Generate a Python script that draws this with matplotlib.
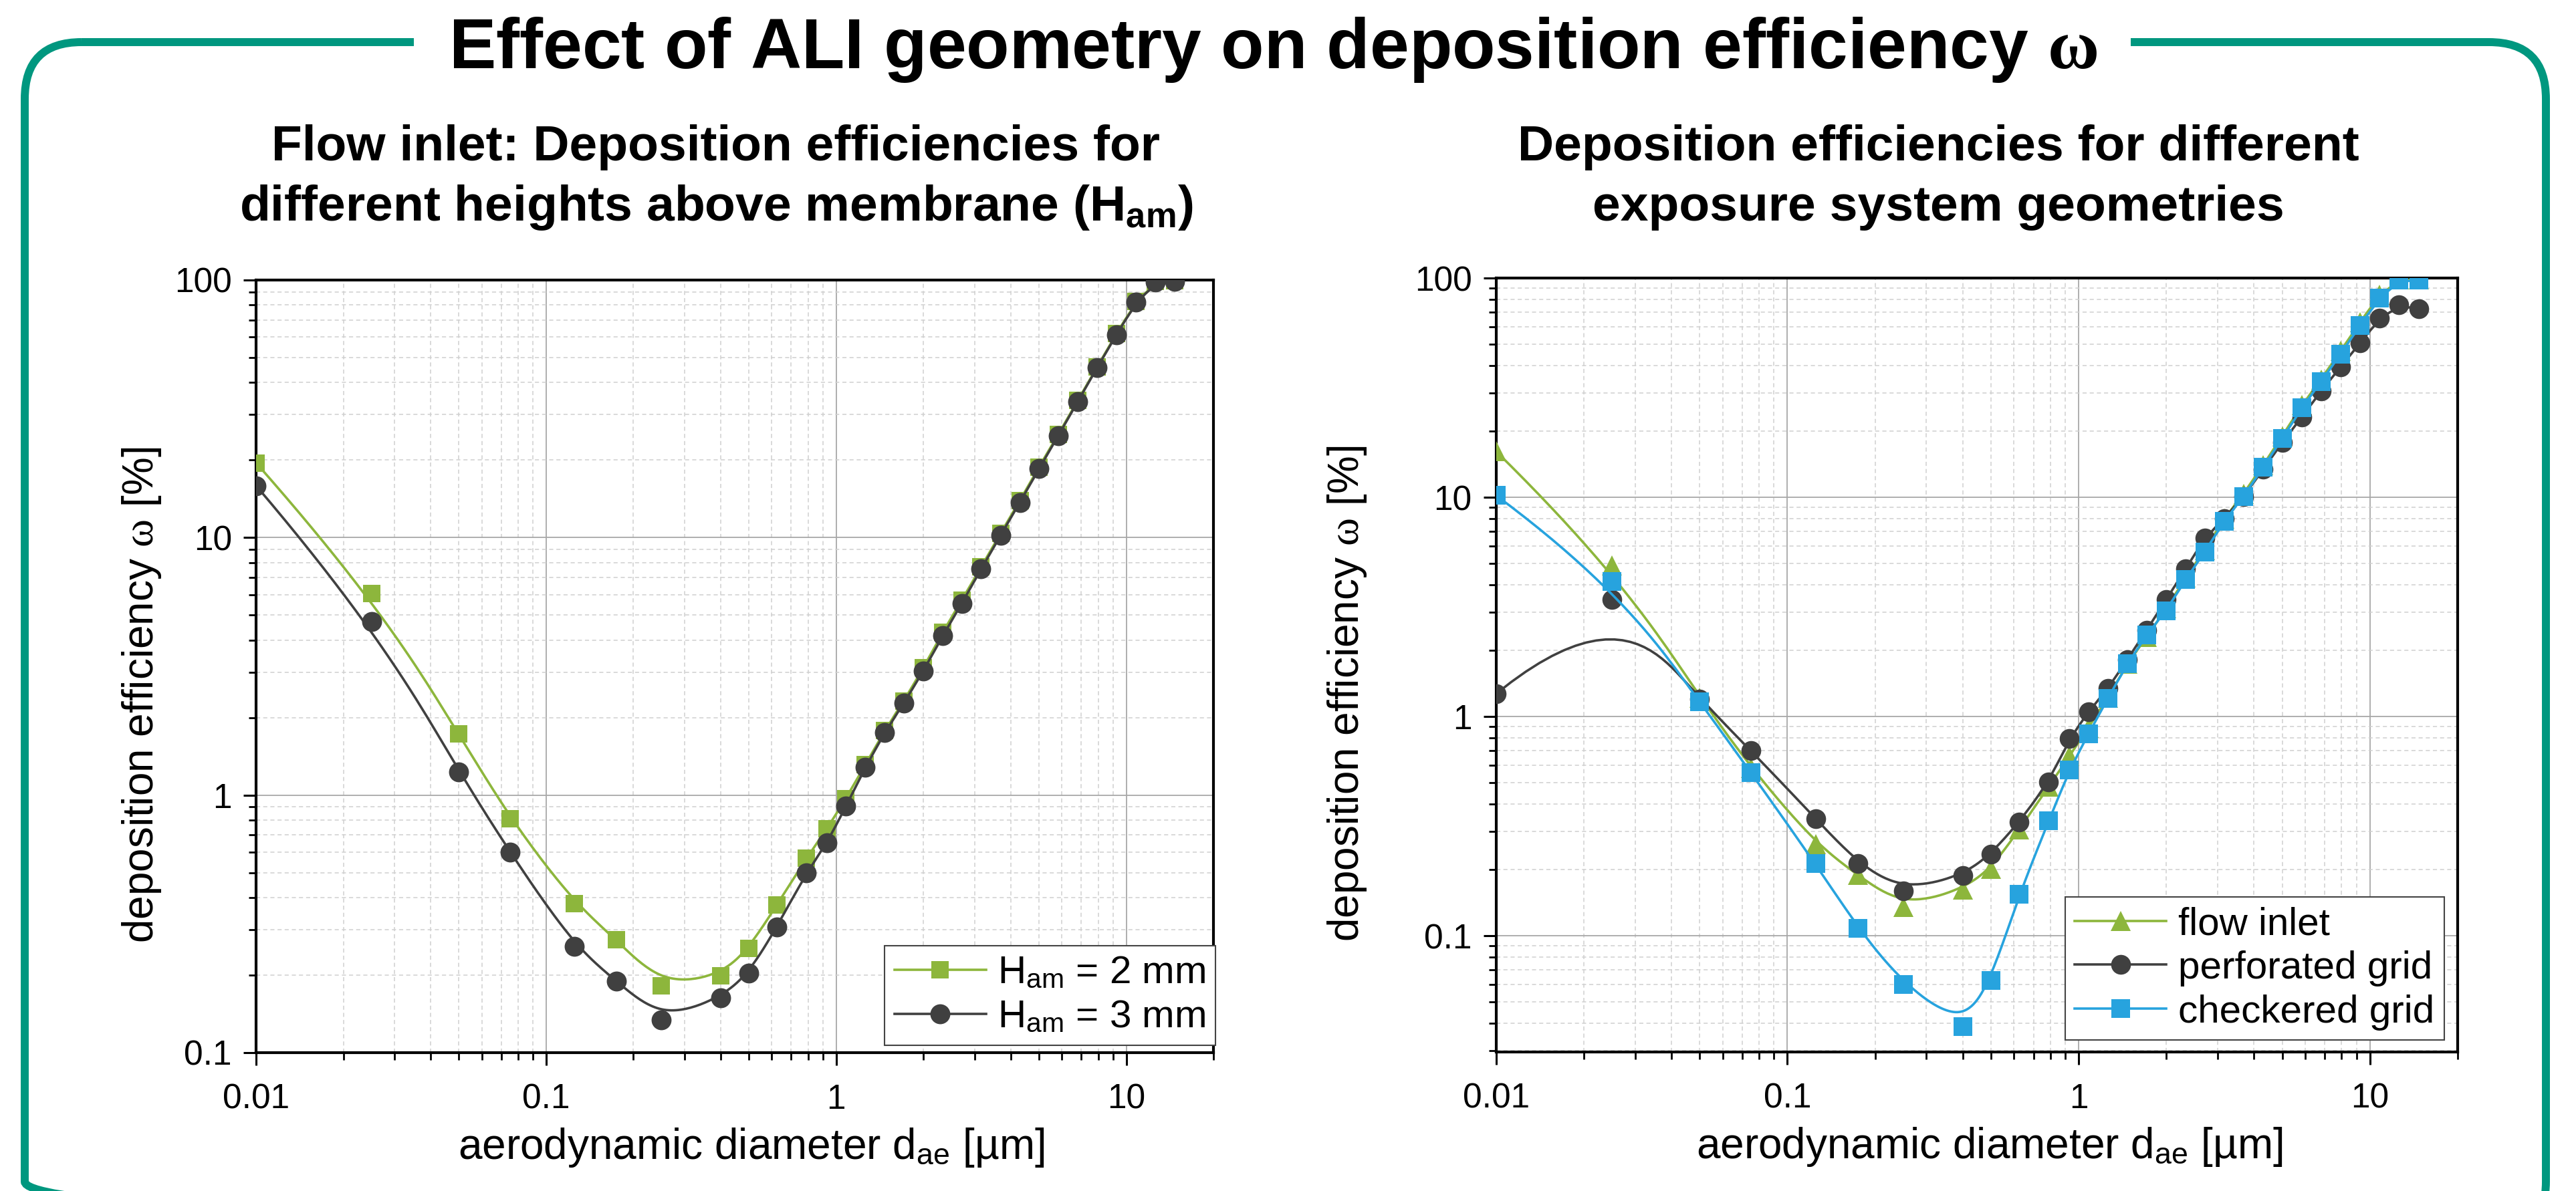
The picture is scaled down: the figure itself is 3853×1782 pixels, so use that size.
import numpy as np
import matplotlib
matplotlib.use('Agg')
import matplotlib.pyplot as plt
from matplotlib.lines import Line2D
from matplotlib.patches import FancyBboxPatch, Rectangle
from matplotlib.ticker import LogLocator, FuncFormatter, NullFormatter

plt.rcParams['font.family'] = ['Liberation Sans', 'DejaVu Sans']
plt.rcParams['mathtext.fontset'] = 'custom'
plt.rcParams['mathtext.rm'] = 'Liberation Sans'
plt.rcParams['mathtext.it'] = 'Liberation Serif'
plt.rcParams['mathtext.bf'] = 'Liberation Sans:bold'
plt.rcParams['mathtext.sf'] = 'Liberation Serif:bold'

# particle diameters [um], same grid for all series
d_ae = [0.01, 0.025, 0.05, 0.075, 0.125, 0.175, 0.25, 0.4, 0.5, 0.625,
        0.79, 0.93, 1.08, 1.26, 1.47, 1.71, 2.0, 2.33, 2.71, 3.16,
        3.69, 4.3, 5.0, 5.84, 6.8, 7.94, 9.26, 10.8, 12.6, 14.7]

# left panel: flow inlet, heights above membrane
h_2mm = [19.5, 6.05, 1.73, 0.81, 0.38, 0.275, 0.182, 0.199, 0.254, 0.375,
         0.57, 0.74, 0.97, 1.31, 1.78, 2.32, 3.12, 4.3, 5.7, 7.7,
         10.4, 13.9, 18.8, 25.2, 34.0, 46.0, 62.0, 82.5, 98.5, 99.5]
h_3mm = [15.9, 4.73, 1.23, 0.60, 0.258, 0.19, 0.134, 0.163, 0.203, 0.308,
         0.50, 0.651, 0.904, 1.28, 1.75, 2.27, 3.04, 4.16, 5.54, 7.55,
         10.2, 13.7, 18.5, 24.9, 33.7, 45.7, 61.4, 81.9, 98.0, 99.0]

# right panel: exposure system geometries
flow_inlet = [16.2, 4.9, 1.22, 0.583, 0.262, 0.189, 0.135, 0.163, 0.202, 0.305,
              0.48, 0.66, 0.89, 1.22, 1.74, 2.3, 3.11, 4.3, 5.75, 8.0,
              10.4, 14.0, 19.0, 26.3, 34.5, 46.5, 63.0, 84.0, 99.0, 99.0]
perforated = [1.27, 3.42, 1.2, 0.70, 0.343, 0.213, 0.16, 0.188, 0.236, 0.33,
              0.502, 0.792, 1.05, 1.34, 1.82, 2.47, 3.42, 4.71, 6.53, 8.0,
              10.1, 13.4, 17.8, 23.2, 30.6, 39.3, 50.5, 65.7, 75.5, 72.7]
checkered = [10.2, 4.13, 1.17, 0.555, 0.213, 0.108, 0.060, 0.0384, 0.0624, 0.155,
             0.334, 0.571, 0.831, 1.21, 1.74, 2.35, 3.04, 4.22, 5.62, 7.79,
             10.1, 13.7, 18.5, 25.6, 33.7, 45.0, 61.0, 81.3, 98.0, 98.0]

GREEN = '#8db63c'
DARK = '#404040'
BLUE = '#27a3de'
TEAL = '#00977f'


def bspline(xs, ys, num=600):
    # clamped cubic B-spline with the data points as control points (log-log)
    P = np.column_stack([np.log10(xs), np.log10(ys)])
    n, k = len(P), 3
    knots = np.concatenate([np.zeros(k), np.arange(n - k + 1), np.full(k, n - k)])
    out = []
    for t in np.linspace(0, n - k, num):
        s = min(int(np.searchsorted(knots, t, side='right') - 1), n - 1)
        d = [P[j + s - k].copy() for j in range(k + 1)]
        for r in range(1, k + 1):
            for j in range(k, r - 1, -1):
                a = (t - knots[j + s - k]) / (knots[j + 1 + s - r] - knots[j + s - k])
                d[j] = (1 - a) * d[j - 1] + a * d[j]
        out.append(d[k])
    out = np.array(out)
    return 10 ** out[:, 0], 10 ** out[:, 1]


def draw_series(ax, y, color, marker, ms):
    cx, cy = bspline(d_ae, y)
    ax.plot(cx, cy, color=color, lw=2.6, zorder=3)
    ax.plot(d_ae, y, ls='none', marker=marker, ms=ms, color=color, mew=0, zorder=3)
    return Line2D([], [], color=color, lw=2.6, marker=marker, ms=ms, mew=0)


def style_axes(ax, ymin, ylab_x, xlab_x):
    ax.set_xscale('log')
    ax.set_yscale('log')
    ax.set_xlim(0.01, 20)
    ax.set_ylim(ymin, 100)
    for a in (ax.xaxis, ax.yaxis):
        a.set_major_locator(LogLocator(base=10, numticks=12))
        a.set_minor_locator(LogLocator(base=10, subs=np.arange(2, 10), numticks=100))
        a.set_major_formatter(FuncFormatter(lambda v, p: f'{v:g}'))
        a.set_minor_formatter(NullFormatter())
    ax.grid(which='major', color='#a8a8a8', lw=1.3, ls='-')
    ax.grid(which='minor', color='#d0d0d0', lw=1.1, ls=(0, (4, 3)))
    ax.set_axisbelow(True)
    ax.tick_params(which='major', direction='out', length=14, width=2.2,
                   labelsize=37, top=False, right=False)
    ax.tick_params(which='minor', direction='out', length=8, width=2,
                   top=False, right=False)
    ax.tick_params(axis='x', which='major', pad=19)
    ax.tick_params(axis='y', which='major', pad=12)
    for sp in ax.spines.values():
        sp.set_linewidth(3)
        sp.set_color('black')
    ax.set_xlabel(r'aerodynamic diameter d$_{\mathrm{ae}}$ [µm]', fontsize=46)
    ax.set_ylabel(r'deposition efficiency $\omega$ [%]', fontsize=46)
    ax.xaxis.set_label_coords(xlab_x, -0.095)
    ax.yaxis.set_label_coords(ylab_x, 0.463)


fig = plt.figure(figsize=(38.53, 17.82), dpi=100)

# background: frame, title, panel headings in pixel coordinates
bg = fig.add_axes([0, 0, 1, 1])
bg.set_xlim(0, 3853)
bg.set_ylim(1782, 0)
bg.axis('off')
bg.add_patch(FancyBboxPatch((37, 63), 3771, 1790, boxstyle='round,pad=0,rounding_size=85',
                            fill=False, ec=TEAL, lw=8.6))
bg.add_patch(Rectangle((619, 30), 2568, 70, fc='white', ec='none', zorder=3))
bg.text(1904, 102, r'Effect of ALI geometry on deposition efficiency $\mathsf{\omega}$',
        fontsize=76, fontweight='bold', ha='center', va='baseline', zorder=4)
bg.text(1071, 240, 'Flow inlet: Deposition efficiencies for', fontsize=54,
        fontweight='bold', ha='center', va='baseline')
bg.text(1071, 330, r'different heights above membrane (H$_{\mathbf{am}}$)', fontsize=54,
        fontweight='bold', ha='center', va='baseline')
bg.text(2899, 240, 'Deposition efficiencies for different', fontsize=54,
        fontweight='bold', ha='center', va='baseline')
bg.text(2899, 330, 'exposure system geometries', fontsize=54,
        fontweight='bold', ha='center', va='baseline')

leg_kw = dict(loc='lower right', borderaxespad=0, fontsize=42, frameon=True,
              fancybox=False, edgecolor='#444444', framealpha=1, handlelength=2.35,
              handletextpad=0.3, borderpad=0.25, labelspacing=0.2)

# left panel
ax1 = fig.add_axes([0.0994, 0.1162, 0.3717, 0.6487])
hl = [draw_series(ax1, h_2mm, GREEN, 's', 18.7),
      draw_series(ax1, h_3mm, DARK, 'o', 21.5)]
style_axes(ax1, 0.1, -0.097, 0.517)
leg1 = ax1.legend(handles=hl, labels=[r'H$_{\mathrm{am}}$ = 2 mm', r'H$_{\mathrm{am}}$ = 3 mm'],
                  bbox_to_anchor=(1.002, 0.0095), **leg_kw)
leg1.get_frame().set_linewidth(1.5)

# right panel
ax2 = fig.add_axes([0.5808, 0.1167, 0.3732, 0.6498])
hr = [draw_series(ax2, flow_inlet, GREEN, '^', 22),
      draw_series(ax2, perforated, DARK, 'o', 21.3),
      draw_series(ax2, checkered, BLUE, 's', 19.8)]
style_axes(ax2, 0.0295, -0.133, 0.513)
leg2 = ax2.legend(handles=hr, labels=['flow inlet', 'perforated grid', 'checkered grid'],
                  bbox_to_anchor=(0.986, 0.0155), **leg_kw)
leg2.get_frame().set_linewidth(1.5)

fig.savefig('out.png', dpi=100)
